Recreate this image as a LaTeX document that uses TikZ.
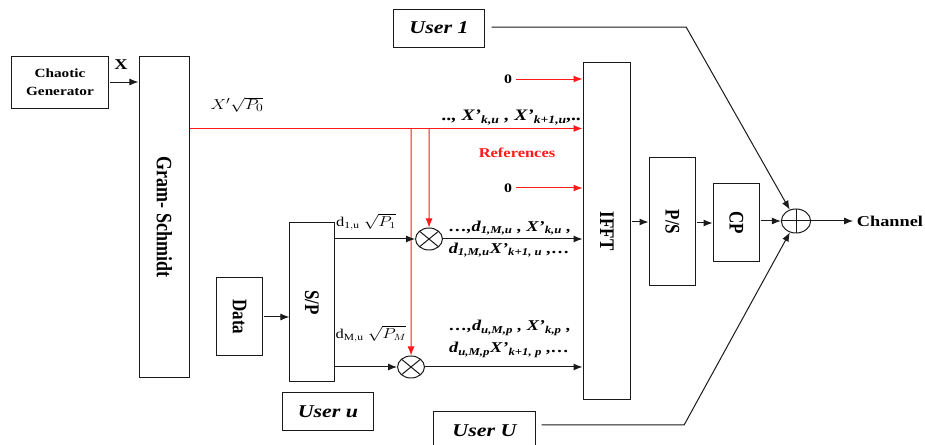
\documentclass[tikz,border=0pt]{standalone}
\usepackage{amsmath}
\usepackage{fontspec}
\setmainfont{Liberation Serif}
\usepackage{tikz}
\usetikzlibrary{arrows.meta,positioning,calc}
\definecolor{ofdmred}{HTML}{FF1A1A}
\definecolor{ofdmline}{HTML}{1A1A1A}

\begin{document}
\begin{tikzpicture}[
  x=0.8197pt,y=-1pt,xscale=1.22,transform shape,
  every node/.style={font=\bfseries\fontsize{13}{15}\selectfont,align=center},
  flow/.style={-{Latex[length=9pt,width=7pt]},line width=1pt,draw=ofdmline},
  refflow/.style={-{Latex[length=9pt,width=7pt]},line width=1pt,draw=ofdmred},
  box/.style={draw=ofdmline,line width=1pt,inner sep=2pt},
  vbox/.style={box,rotate=-90,font=\bfseries\fontsize{17}{19}\selectfont},
  user/.style={box,minimum width=75.4pt,minimum height=38pt,font=\bfseries\itshape\fontsize{18}{20}\selectfont},
  seq/.style={font=\bfseries\itshape\fontsize{15}{22}\selectfont,inner sep=1pt},
  mult/.style={circle,draw=ofdmline,line width=1pt,minimum size=22pt,inner sep=0pt,
    path picture={\draw[line width=1pt,ofdmline]
      (path picture bounding box.north west) -- (path picture bounding box.south east)
      (path picture bounding box.north east) -- (path picture bounding box.south west);}},
  adder/.style={circle,draw=ofdmline,line width=1pt,minimum size=24pt,inner sep=0pt,
    path picture={\draw[line width=1pt,ofdmline]
      (path picture bounding box.north) -- (path picture bounding box.south)
      (path picture bounding box.west) -- (path picture bounding box.east);}}
]
\useasboundingbox (0,0) rectangle (925,445);

% source side
\node[box,minimum width=80.3pt,minimum height=52pt,font=\bfseries\fontsize{12.5}{18}\selectfont] (chaos) at (60,82) {Chaotic\\Generator};
\node[vbox,minimum width=322pt,minimum height=41.8pt,font=\bfseries\fontsize{18}{20}\selectfont] (gs) at (164.5,217) {Gram- Schmidt};
\node[font=\bfseries\fontsize{15}{17}\selectfont] (xsym) at (121,65) {X};
\node[font=\fontsize{15}{17}\selectfont] (xp0) at (237,105) {$X'\sqrt{P_0}$};
\node[vbox,minimum width=78pt,minimum height=38.5pt] (data) at (239.5,317) {Data};
\node[vbox,minimum width=159pt,minimum height=36.1pt] (sp) at (312,302.5) {S/P};

% users
\node[user] (user1) at (439,28) {User 1};
\node[user] (useru) at (328,412) {User u};
\node[user,minimum width=84.4pt] (userU) at (484.5,430.5) {User U};

% modulation
\node[mult] (mul1) at (429,239) {};
\node[mult] (mul2) at (411,367) {};
\node[font=\fontsize{13.5}{15}\selectfont] (d1) at (366,222) {$\mathrm{d}_{\mathrm{1,u}}\ \sqrt{P_1}$};
\node[font=\fontsize{13.5}{15}\selectfont] (dM) at (371,334) {$\mathrm{d}_{\mathrm{M,u}}\ \sqrt{P_M}$};

% OFDM chain
\node[vbox,minimum width=338pt,minimum height=39.3pt] (ifft) at (607,231) {IFFT};
\node[vbox,minimum width=128pt,minimum height=38.5pt] (ps) at (672.5,222) {P/S};
\node[vbox,minimum width=78pt,minimum height=38.5pt] (cp) at (736.5,223) {CP};
\node[adder] (sum) at (796,221) {};
\node[anchor=west,inner sep=3pt,font=\bfseries\fontsize{15}{17}\selectfont] (chan) at (853,221) {Channel};

% references
\node (zA) at (508,79) {0};
\node (zB) at (508,188) {0};
\node[font=\bfseries\fontsize{13.5}{15}\selectfont,text=ofdmred] (refs) at (517,153) {References};
\coordinate (xa) at (190,128.5);
\node[seq,font=\bfseries\itshape\fontsize{16}{18}\selectfont,anchor=south east] (xseq) at (583,126) {.., X’\textsubscript{k,u} , X’\textsubscript{k+1,u},..};
\node[seq,align=left] (s1) at (510,239) {\dots,d\textsubscript{1,M,u} , X’\textsubscript{k,u} ,\\d\textsubscript{1,M,u}X’\textsubscript{k+1, u} ,\dots};
\node[seq,align=left] (s2) at (510,339) {\dots,d\textsubscript{u,M,p} , X’\textsubscript{k,p} ,\\d\textsubscript{u,M,p}X’\textsubscript{k+1, p} ,\dots};

\coordinate (bend1) at (686,27);
\coordinate (bendU) at (684,425);

% rotated boxes: north = right side, south = left side
\draw[flow] (chaos.east) -- (chaos.east -| gs.south);
\draw[refflow] (xa) -- (xa -| ifft.south);
\draw[refflow] (xa -| mul1) -- (mul1);
\draw[refflow] (xa -| mul2) -- (mul2);
\draw[refflow] (zA.east) -- (zA -| ifft.south);
\draw[refflow] (zB.east) -- (zB -| ifft.south);
\draw[flow] (data.north) -- (data.north -| sp.south);
\draw[flow] (mul1 -| sp.north) -- (mul1);
\draw[flow] (mul2 -| sp.north) -- (mul2);
\draw[flow] (mul1) -- (mul1 -| ifft.south);
\draw[flow] (mul2) -- (mul2 -| ifft.south);
\draw[flow] (ifft.north |- ps.south) -- (ps.south);
\draw[flow] (ps.north |- cp.south) -- (cp.south);
\draw[flow] (cp.north |- sum) -- (sum);
\draw[flow] (sum) -- (chan);
\draw[flow,shorten <=6pt] (bend1 -| user1.east) -- (bend1) -- (sum);
\draw[flow,shorten <=5pt] (bendU -| userU.east) -- (bendU) -- (sum);
\end{tikzpicture}
\end{document}
